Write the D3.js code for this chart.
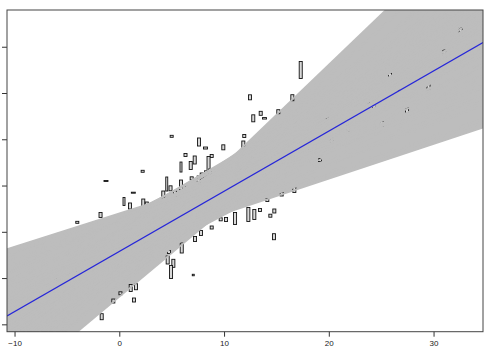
<!DOCTYPE html>
<html>
<head>
<meta charset="utf-8">
<script src="https://cdn.jsdelivr.net/npm/d3@7.9.0/dist/d3.min.js"></script>
<style>
  body { margin: 0; background: #fff; }
  svg { display: block; font-family: "Liberation Sans", Arial, sans-serif; }
</style>
</head>
<body>
<svg id="chart" width="484" height="355"></svg>
<script>
// observed points (x, y) and the size of each box symbol (in data units)
const pointX = [5.00, 7.61, 8.23, 9.93, 11.93, 11.84, 6.32, 6.82, 7.20, 5.89, 8.82, 8.52, 2.23, -1.27, 1.34, 0.45, 1.02, 2.29, 2.62, 4.53,
  4.89, 4.20, 5.32, 5.89, 6.46, 6.91, 7.58, 7.87, 8.28, 8.66, -1.79, -4.01, 9.68, 10.19, 11.05, 12.32, 12.89, 8.82, 7.80, 7.23,
  5.96, 4.62, 5.16, 4.94, 7.06, 4.74, 17.32, 12.48, 16.52, 12.79, 13.50, 13.86, 15.18, 13.43, 14.13, 15.50, 16.71, 14.80, 14.42, 14.77,
  1.59, 1.09, 1.40, 0.11, -0.57, -1.68, 32.59, 31.03, 29.52, 27.47, 25.05, 26.56, 23.17, 23.74, 24.32, 24.60, 21.83, 20.40, 19.80, 20.28,
  25.84, -4.23, -4.71, -6.14, -2.03, -7.76, 9.61, 11.52, 2.93, 18.21, 19.16];
const pointY = [20.64, 19.41, 18.11, 18.26, 20.70, 18.76, 16.60, 14.33, 15.52, 14.00, 16.38, 14.65, 13.08, 10.98, 8.45, 6.55, 5.58, 6.22, 5.90, 10.33,
  9.40, 8.06, 8.32, 10.11, 9.40, 11.56, 11.20, 12.17, 12.64, 13.03, 3.63, 2.05, 2.70, 2.66, 2.87, 3.74, 3.74, 0.93, -0.26, -1.56,
  -3.50, -6.09, -6.81, -8.69, -9.34, -4.37, 34.97, 29.07, 28.98, 24.53, 25.61, 24.53, 25.96, 4.71, 6.87, 8.17, 9.03, 4.50, 3.48, -1.06,
  -11.87, -12.15, -14.74, -13.29, -14.96, -18.35, 43.25, 38.53, 31.36, 26.11, 23.30, 31.19, 28.49, 28.92, 27.40, 28.92, 22.43, 23.51, 24.88, 19.84,
  33.89, -8.69, -9.55, -9.98, -6.09, -17.12, 9.03, 10.11, -1.77, 17.68, 15.51];
const boxW = [0.29, 0.29, 0.38, 0.29, 0.29, 0.29, 0.29, 0.29, 0.29, 0.19, 0.29, 0.29, 0.29, 0.38, 0.38, 0.19, 0.29, 0.29, 0.29, 0.19,
  0.29, 0.29, 0.29, 0.29, 0.29, 0.29, 0.29, 0.29, 0.29, 0.29, 0.29, 0.29, 0.29, 0.29, 0.29, 0.29, 0.29, 0.29, 0.29, 0.29,
  0.29, 0.29, 0.29, 0.29, 0.19, 0.29, 0.29, 0.29, 0.29, 0.29, 0.29, 0.38, 0.29, 0.29, 0.29, 0.29, 0.29, 0.29, 0.29, 0.29,
  0.29, 0.29, 0.29, 0.29, 0.29, 0.29, 0.29, 0.29, 0.29, 0.29, 0.29, 0.29, 0.29, 0.29, 0.29, 0.29, 0.29, 0.29, 0.29, 0.29,
  0.29, 0.29, 0.29, 0.29, 0.29, 0.29, 0.29, 0.29, 0.29, 0.29, 0.29];
const boxH = [0.43, 1.73, 0.43, 1.08, 0.65, 1.73, 0.65, 1.73, 1.73, 2.16, 0.65, 3.24, 0.43, 0.22, 0.22, 1.73, 1.30, 1.73, 1.08, 3.03,
  1.08, 1.51, 1.08, 2.16, 0.86, 0.65, 1.73, 1.08, 1.08, 1.08, 1.08, 0.43, 0.65, 0.86, 2.59, 3.03, 2.16, 0.65, 1.08, 1.08,
  2.16, 1.73, 1.73, 2.81, 0.32, 0.65, 3.67, 1.08, 1.30, 1.51, 0.86, 0.32, 0.86, 0.65, 0.65, 0.86, 1.08, 0.86, 0.65, 1.30,
  1.30, 1.51, 0.86, 0.65, 0.86, 1.30, 1.73, 1.51, 1.30, 1.30, 1.08, 1.08, 1.73, 2.16, 1.73, 1.30, 1.30, 1.08, 0.86, 1.08,
  0.86, 1.08, 0.86, 0.86, 0.65, 0.86, 0.86, 0.65, 0.86, 0.86, 0.65];

// resampled regression lines: fitted value at xCenter and slope
const xCenter = 8.6;
const bootSlope = [0.72, 0.75, 0.80, 0.85, 0.88, 0.92, 0.95, 0.98, 1.00, 1.02, 1.04, 1.06, 1.07, 1.09, 1.10, 1.12, 1.13, 1.14, 1.16, 1.17,
  1.18, 1.19, 1.20, 1.21, 1.22, 1.23, 1.24, 1.25, 1.26, 1.26, 1.27, 1.28, 1.29, 1.30, 1.30, 1.31, 1.32, 1.32, 1.33, 1.34,
  1.34, 1.35, 1.36, 1.36, 1.37, 1.38, 1.38, 1.39, 1.40, 1.41, 1.41, 1.42, 1.43, 1.44, 1.45, 1.46, 1.47, 1.48, 1.49, 1.50,
  1.51, 1.52, 1.53, 1.55, 1.56, 1.57, 1.58, 1.60, 1.61, 1.63, 1.64, 1.66, 1.67, 1.69, 1.71, 1.73, 1.75, 1.77, 1.79, 1.82,
  1.84, 1.87, 1.89, 1.90, 1.93, 1.96, 2.00, 2.04, 2.08, 2.12, 2.17, 0.78, 0.83, 1.03, 1.15, 1.28, 1.33, 1.35, 1.39, 1.42,
  1.45, 1.31, 1.37, 1.47, 1.52, 1.25, 1.20, 1.58, 1.62, 1.10, 0.74, 0.76, 0.79, 0.77, 0.82];
const bootLevel = [10.2, 2.9, 6.5, 8.8, 4.4, 7.2, 10.9, 3.3, 5.8, 9.1, 6.9, 2.4, 11.8, 4.9, 8.0, 6.1, 12.6, 3.6, 7.6, 9.7,
  5.2, 2.0, 8.4, 6.6, 10.6, 4.1, 13.1, 7.0, 5.5, 9.3, 3.0, 7.9, 11.2, 6.3, 4.6, 8.7, 13.4, 2.3, 7.4, 10.1,
  5.0, 6.8, 12.1, 3.8, 8.2, 6.0, 9.8, 4.3, 7.1, 11.5, 2.7, 8.9, 5.7, 12.9, 6.5, 3.4, 9.5, 7.7, 4.8, 10.8,
  6.2, 2.1, 8.5, 13.0, 5.3, 7.3, 11.0, 3.9, 9.0, 6.7, 12.4, 4.5, 8.1, 2.6, 10.4, 5.9, 7.8, 11.9, 3.5, 9.4,
  6.4, 4.7, 2.2, 10.0, 7.4, 5.4, 8.6, 11.0, 6.9, 9.2, 11.4, 4.1, 9.6, 11.4, 12.0, 6.5, 7.0, 7.6, 6.9, 7.2,
  8.0, 5.9, 6.4, 7.0, 6.6, 8.3, 7.7, 7.6, 5.0, 5.0, 8.9, 9.8, 10.5, 3.5, 3.0];

// full-sample fit
const fitIntercept = -4.24;
const fitSlope = 1.30;

const xTicks = [-10, 0, 10, 20, 30];
const yTicks = [-20, -10, 0, 10, 20, 30, 40];

const margin = {left: 7, top: 10, right: 1, bottom: 23.3};
const W = 484, H = 355;
const iw = W - margin.left - margin.right;
const ih = H - margin.top - margin.bottom;

const x = d3.scaleLinear().domain([-10.72, 34.72]).range([0, iw]);
const y = d3.scaleLinear().domain([-21.59, 47.94]).range([ih, 0]);

const svg = d3.select('#chart');
const g = svg.append('g').attr('transform', `translate(${margin.left},${margin.top})`);

g.append('clipPath').attr('id', 'clip')
  .append('rect').attr('width', iw).attr('height', ih);

const plot = g.append('g').attr('clip-path', 'url(#clip)');

const [x0, x1] = x.domain();
const n = Math.min(bootSlope.length, bootLevel.length);
const boots = d3.range(n).map(i => ({b: bootSlope[i], m: bootLevel[i]}));
const fitAt = (d, xv) => d.m + d.b * (xv - xCenter);

// the resampled lines overlap almost everywhere, so shade their envelope
const steps = d3.range(0, 241).map(i => x0 + (x1 - x0) * i / 240);
const band = d3.area()
  .x(xv => x(xv))
  .y0(xv => y(d3.min(boots, d => fitAt(d, xv))))
  .y1(xv => y(d3.max(boots, d => fitAt(d, xv))));
plot.append('path').datum(steps)
  .attr('d', band)
  .attr('fill', '#bdbdbd');

// boxes, then the lines painted over them
const points = pointX.map((px, i) => ({x: px, y: pointY[i], w: boxW[i], h: boxH[i]}));
plot.selectAll('rect.pt').data(points).enter().append('rect')
  .attr('class', 'pt')
  .attr('x', d => x(d.x - d.w / 2))
  .attr('y', d => y(d.y + d.h / 2))
  .attr('width', d => x(d.x + d.w / 2) - x(d.x - d.w / 2))
  .attr('height', d => y(d.y - d.h / 2) - y(d.y + d.h / 2))
  .attr('fill', '#d8d8d8')
  .attr('stroke', '#111')
  .attr('stroke-width', 0.9);

plot.selectAll('line.boot').data(boots).enter().append('line')
  .attr('class', 'boot')
  .attr('x1', x(x0)).attr('x2', x(x1))
  .attr('y1', d => y(fitAt(d, x0)))
  .attr('y2', d => y(fitAt(d, x1)))
  .attr('stroke', '#bdbdbd')
  .attr('stroke-width', 1.6);

plot.append('line')
  .attr('x1', x(x0)).attr('x2', x(x1))
  .attr('y1', y(fitIntercept + fitSlope * x0))
  .attr('y2', y(fitIntercept + fitSlope * x1))
  .attr('stroke', '#2626d9')
  .attr('stroke-width', 1.2);

// axes
const xAxis = g.append('g').attr('transform', `translate(0,${ih})`)
  .call(d3.axisBottom(x).tickValues(xTicks).tickSize(5).tickPadding(4).tickFormat(d3.format('d')));
xAxis.select('.domain').remove();
xAxis.selectAll('text').attr('font-size', 8).attr('fill', '#222').attr('font-family', '"Liberation Sans", Arial, sans-serif');
xAxis.selectAll('line').attr('stroke', '#333');

const yAxis = g.append('g')
  .call(d3.axisLeft(y).tickValues(yTicks).tickSize(5).tickFormat(''));
yAxis.select('.domain').remove();
yAxis.selectAll('line').attr('stroke', '#333');

g.append('rect')
  .attr('width', iw).attr('height', ih)
  .attr('fill', 'none').attr('stroke', '#444').attr('stroke-width', 1);
</script>
</body>
</html>
